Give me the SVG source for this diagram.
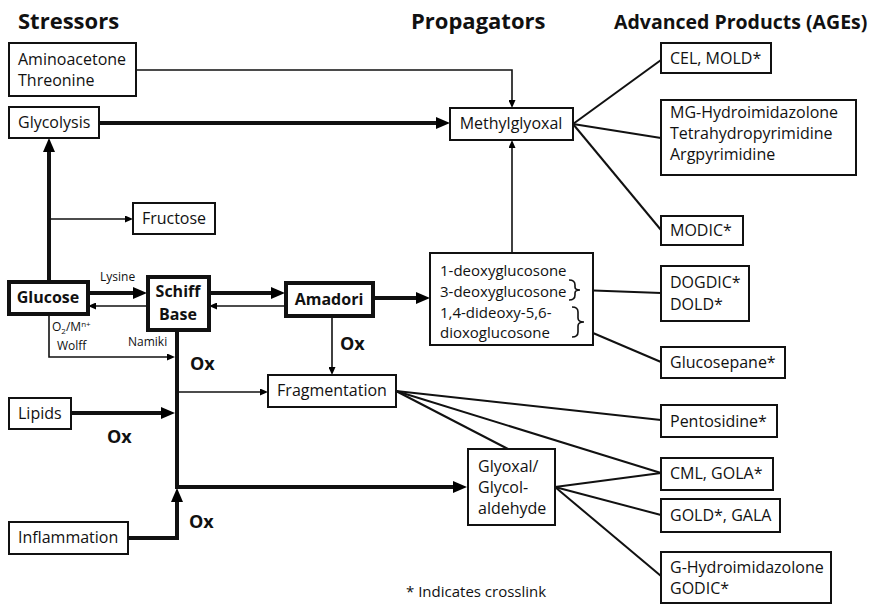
<svg xmlns="http://www.w3.org/2000/svg" width="883" height="604" viewBox="0 0 883 604">
<defs>
<marker id="ah" markerUnits="userSpaceOnUse" markerWidth="14" markerHeight="12" refX="3" refY="6" orient="auto"><path d="M0,0 L14,6 L0,12 z" fill="#000"/></marker>
<marker id="at" markerUnits="userSpaceOnUse" markerWidth="8" markerHeight="7" refX="2" refY="3.5" orient="auto"><path d="M0,0 L8,3.5 L0,7 z" fill="#000"/></marker>
<style>
text{font-family:"Open Sans","Liberation Sans",sans-serif;fill:#111;}
.t{font-size:16px;}
.d{font-size:15px;}
.b{font-size:16px;font-weight:bold;}
.s{font-size:12px;}
.h{font-size:22px;font-weight:bold;}
.ox{font-size:18px;font-weight:bold;}
.box{fill:#fff;stroke:#111;stroke-width:2;}
.bx{fill:#fff;stroke:#111;stroke-width:4;}
.thin{fill:none;stroke:#111;stroke-width:1.6;}
.thick{fill:none;stroke:#111;stroke-width:4;}
.ln{fill:none;stroke:#111;stroke-width:2;}
</style>
</defs>
<rect width="883" height="604" fill="#fff"/>
<text class="h" x="18" y="29">Stressors</text>
<text class="h" x="411" y="29">Propagators</text>
<text class="h" x="614" y="29" style="font-size:19.5px">Advanced Products (AGEs)</text>

<g id="connectors">
<polyline class="thin" points="136,70 512,70 512,102" marker-end="url(#at)"/>
<line class="thick" x1="99" y1="123" x2="439" y2="123" marker-end="url(#ah)"/>
<line class="thin" x1="512" y1="253" x2="512" y2="146" marker-end="url(#at)"/>
<line class="thick" x1="49" y1="281" x2="49" y2="149" marker-end="url(#ah)"/>
<line class="thin" x1="49" y1="219" x2="127" y2="219" marker-end="url(#at)"/>
<line class="thick" x1="88" y1="293" x2="136" y2="293" marker-end="url(#ah)"/>
<line class="thin" x1="147" y1="306" x2="94" y2="306" marker-end="url(#at)"/>
<line class="thick" x1="209" y1="293" x2="274" y2="293" marker-end="url(#ah)"/>
<line class="thin" x1="285" y1="306" x2="215" y2="306" marker-end="url(#at)"/>
<line class="thick" x1="373" y1="298" x2="419" y2="298" marker-end="url(#ah)"/>
<line class="thin" x1="332" y1="316" x2="332" y2="369" marker-end="url(#at)"/>
<polyline class="thin" points="49,314 49,357 169,357" marker-end="url(#at)"/>
<line class="thick" x1="177" y1="330" x2="177" y2="489"/>
<line class="thin" x1="177" y1="392" x2="262" y2="392" marker-end="url(#at)"/>
<line class="thick" x1="71" y1="413" x2="164" y2="413" marker-end="url(#ah)"/>
<polyline class="thick" points="128,538 177,538 177,499" marker-end="url(#ah)"/>
<line class="thick" x1="177" y1="487" x2="456" y2="487" marker-end="url(#ah)"/>
<line class="ln" x1="573" y1="124" x2="661" y2="60"/>
<line class="ln" x1="573" y1="124" x2="661" y2="138"/>
<line class="ln" x1="573" y1="124" x2="661" y2="230"/>
<line class="ln" x1="580" y1="290" x2="661" y2="293"/>
<line class="ln" x1="593" y1="333" x2="661" y2="362"/>
<line class="ln" x1="396" y1="391" x2="661" y2="420"/>
<line class="ln" x1="396" y1="391" x2="661" y2="473"/>
<line class="ln" x1="396" y1="391" x2="508" y2="449"/>
<line class="ln" x1="555" y1="487" x2="661" y2="473"/>
<line class="ln" x1="555" y1="487" x2="661" y2="515"/>
<line class="ln" x1="555" y1="487" x2="661" y2="576"/>
</g>

<g id="aminoacetone"><rect class="box" x="9" y="43" width="127" height="53"/><text class="t" x="18" y="65">Aminoacetone</text><text class="t" x="18" y="86">Threonine</text></g>
<g id="glycolysis"><rect class="box" x="9" y="107" width="90" height="31"/><text class="t" x="18" y="128">Glycolysis</text></g>
<g id="methylglyoxal"><rect class="box" x="450" y="108" width="123" height="32"/><text class="t" x="511" y="129" text-anchor="middle">Methylglyoxal</text></g>
<g id="fructose"><rect class="box" x="133" y="203" width="82" height="31"/><text class="t" x="174" y="224" text-anchor="middle">Fructose</text></g>
<g id="glucose"><rect class="bx" x="9" y="282" width="79" height="32"/><text class="b" x="48" y="303" text-anchor="middle">Glucose</text></g>
<g id="schiff"><rect class="bx" x="148" y="277" width="61" height="53"/><text class="b" x="178" y="297" text-anchor="middle">Schiff</text><text class="b" x="178" y="320" text-anchor="middle">Base</text></g>
<g id="amadori"><rect class="bx" x="286" y="283" width="87" height="33"/><text class="b" x="329" y="305" text-anchor="middle">Amadori</text></g>
<g id="deoxy"><rect class="box" x="430" y="253" width="163" height="92"/>
<text class="d" x="440" y="276">1-deoxyglucosone</text>
<text class="d" x="440" y="297">3-deoxyglucosone</text>
<text class="d" x="440" y="318">1,4-dideoxy-5,6-</text>
<text class="d" x="440" y="338">dioxoglucosone</text>
<path class="thin" d="M569,280 Q575,280 575,285 L575,287 Q575,290 580,290 Q575,290 575,293 L575,295 Q575,300 569,300"/>
<path class="thin" d="M572,307 Q578,307 578,312 L578,318 Q578,322 584,322 Q578,322 578,326 L578,332 Q578,337 572,337"/>
</g>
<g id="fragmentation"><rect class="box" x="268" y="375" width="128" height="32"/><text class="t" x="332" y="396" text-anchor="middle">Fragmentation</text></g>
<g id="lipids"><rect class="box" x="9" y="398" width="62" height="31"/><text class="t" x="18" y="419">Lipids</text></g>
<g id="inflammation"><rect class="box" x="9" y="522" width="119" height="32"/><text class="t" x="18" y="543">Inflammation</text></g>
<g id="glyoxal"><rect class="box" x="468" y="449" width="87" height="76"/><text class="t" x="478" y="472">Glyoxal/</text><text class="t" x="478" y="493">Glycol-</text><text class="t" x="478" y="514">aldehyde</text></g>
<g id="labels">
<text class="s" x="100" y="281">Lysine</text>
<text class="s" x="52" y="331">O<tspan font-size="8" dy="3">2</tspan><tspan dy="-3">/M</tspan><tspan font-size="8" dy="-4">n+</tspan></text>
<text class="s" x="57" y="350">Wolff</text>
<text class="s" x="128" y="346">Namiki</text>
<text class="ox" x="190" y="370">Ox</text>
<text class="ox" x="340" y="350">Ox</text>
<text class="ox" x="107" y="443">Ox</text>
<text class="ox" x="189" y="528">Ox</text>
<text class="t" x="406" y="597" style="font-size:15px">* Indicates crosslink</text>
</g>
<g id="cel"><rect class="box" x="661" y="43" width="110" height="30"/><text class="t" x="670" y="64">CEL, MOLD*</text></g>
<g id="mg"><rect class="box" x="661" y="100" width="195" height="75"/><text class="t" x="670" y="118">MG-Hydroimidazolone</text><text class="t" x="670" y="139">Tetrahydropyrimidine</text><text class="t" x="670" y="160">Argpyrimidine</text></g>
<g id="modic"><rect class="box" x="661" y="216" width="82" height="29"/><text class="t" x="670" y="236">MODIC*</text></g>
<g id="dogdic"><rect class="box" x="661" y="266" width="88" height="55"/><text class="t" x="670" y="288">DOGDIC*</text><text class="t" x="670" y="310">DOLD*</text></g>
<g id="glucosepane"><rect class="box" x="661" y="347" width="124" height="31"/><text class="t" x="670" y="368">Glucosepane*</text></g>
<g id="pentosidine"><rect class="box" x="661" y="405" width="116" height="32"/><text class="t" x="670" y="427">Pentosidine*</text></g>
<g id="cml"><rect class="box" x="661" y="458" width="112" height="32"/><text class="t" x="670" y="479">CML, GOLA*</text></g>
<g id="gold"><rect class="box" x="661" y="499" width="119" height="33"/><text class="t" x="670" y="521">GOLD*, GALA</text></g>
<g id="ghydro"><rect class="box" x="661" y="552" width="170" height="51"/><text class="t" x="670" y="573">G-Hydroimidazolone</text><text class="t" x="670" y="594">GODIC*</text></g>
</svg>
